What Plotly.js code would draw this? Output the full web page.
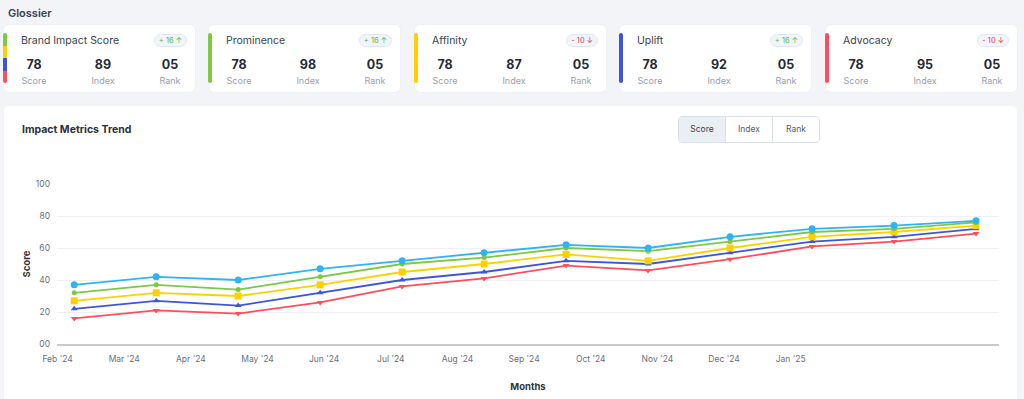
<!DOCTYPE html>
<html>
<head>
<meta charset="utf-8">
<script src="https://cdn.plot.ly/plotly-3.0.1.min.js"></script>
<style>
  html, body { margin: 0; padding: 0; }
  body { width: 1024px; height: 399px; overflow: hidden; background: #F2F4F7; font-family: Inter, "Noto Sans", sans-serif; position: relative; color: #2b2f3a; }
  .brand { position: absolute; left: 8px; top: 6px; font-size: 11px; font-weight: 600; color: #3a3f4b; }
  .card { position: absolute; top: 25px; height: 67px; width: 191px; background: #fff; border-radius: 5px; box-shadow: 0 0 2px rgba(0,0,0,0.06); }
  .bar { position: absolute; left: -1px; top: 8px; width: 4px; height: 50px; border-radius: 2px; overflow: hidden; }
  .bar div { height: 25%; }
  .ctitle { position: absolute; left: 17px; top: 9px; font-size: 10.5px; color: #3a3f4b; }
  .badge { position: absolute; right: 8px; top: 9px; height: 11px; line-height: 11px; padding: 0 4px; font-size: 7.5px; border-radius: 7px; background: #F1F5FB; border: 1px solid #E1E8F2; }
  .up { color: #5DBB3A; }
  .down { color: #E5414B; }
  .val { position: absolute; top: 32px; width: 50px; margin-left: -25px; text-align: center; font-size: 12.5px; font-weight: 700; color: #262a35; }
  .lab { position: absolute; top: 50px; width: 50px; margin-left: -25px; text-align: center; font-size: 9px; color: #9aa0ab; }
  .panel { position: absolute; left: 4px; top: 106px; width: 1013px; height: 300px; background: #fff; border-radius: 5px; }
  .ptitle { position: absolute; left: 18px; top: 17px; font-size: 10.5px; font-weight: 700; color: #2b2f3a; }
  .btns { position: absolute; left: 674px; top: 10px; height: 25px; display: flex; border: 1px solid #DCE1E8; border-radius: 4px; overflow: hidden; }
  .btns div { width: 46px; text-align: center; line-height: 25px; font-size: 8.5px; color: #555b66; border-left: 1px solid #DCE1E8; }
  .btns div:first-child { border-left: none; background: #EAEFF6; color: #3a3f4b; }
  #chart { position: absolute; left: 0; top: 0; width: 1013px; height: 293px; }
</style>
</head>
<body>
<div class="brand">Glossier</div>
<div id="cards"></div>
<div class="panel">
  <div id="chart"></div>
  <div class="ptitle">Impact Metrics Trend</div>
  <div class="btns"><div>Score</div><div>Index</div><div>Rank</div></div>
</div>
<script>
// ---- data ----
const months = ["Feb '24","Mar '24","Apr '24","May '24","Jun '24","Jul '24","Aug '24","Sep '24","Oct '24","Nov '24","Dec '24","Jan '25"];
const brandImpact = [37, 42, 40, 47, 52, 57, 62, 60, 67, 72, 74, 77];
const prominence  = [32, 37, 34, 42, 50, 54, 60, 58, 64, 70, 72, 76];
const affinity    = [27, 32, 30, 37, 45, 50, 56, 52, 60, 67, 70, 74];
const uplift      = [22, 27, 24, 32, 40, 45, 52, 50, 57, 64, 67, 72];
const advocacy    = [16, 21, 19, 26, 36, 41, 49, 46, 53, 61, 64, 69];
const yTickVals   = [0, 20, 40, 60, 80, 100];
const yTickText   = ["00", "20", "40", "60", "80", "100"];

const cardNames  = ["Brand Impact Score", "Prominence", "Affinity", "Uplift", "Advocacy"];
const cardScore  = ["78", "78", "78", "78", "78"];
const cardIndex  = ["89", "98", "87", "92", "95"];
const cardRank   = ["05", "05", "05", "05", "05"];
const cardDelta  = ["+ 16 \u2191", "+ 16 \u2191", "- 10 \u2193", "+ 16 \u2191", "- 10 \u2193"];

// ---- cards ----
const barColors = [["#7CC942","#FFD000","#3D55D9","#FF4D5A"],["#7CC942"],["#FFD000"],["#3D55D9"],["#FF4D5A"]];
const cardLeft = [4, 209, 415, 620, 826];
const cardsEl = document.getElementById('cards');
cardNames.forEach((n, i) => {
  const c = document.createElement('div');
  c.className = 'card';
  c.style.left = cardLeft[i] + 'px';
  const segs = barColors[i].map(col => `<div style="background:${col};height:${100/barColors[i].length}%"></div>`).join('');
  const up = cardDelta[i].trim().startsWith('+');
  c.innerHTML = `<div class="bar">${segs}</div>
    <div class="ctitle">${n}</div>
    <div class="badge ${up ? 'up' : 'down'}">${cardDelta[i]}</div>
    <div class="val" style="left:30px">${cardScore[i]}</div>
    <div class="val" style="left:99px">${cardIndex[i]}</div>
    <div class="val" style="left:166px">${cardRank[i]}</div>
    <div class="lab" style="left:30px">Score</div>
    <div class="lab" style="left:99px">Index</div>
    <div class="lab" style="left:166px">Rank</div>`;
  cardsEl.appendChild(c);
});

// ---- chart ----
const xs = months.map((_, i) => i);
function tr(name, y, color, symbol, size) {
  return { type: 'scatter', mode: 'lines+markers', name: name, x: xs, y: y,
    line: { color: color, width: 1.8 }, marker: { color: color, symbol: symbol, size: size } };
}
const traces = [
  tr('Advocacy', advocacy, '#FF4D5A', 'triangle-down', 6),
  tr('Uplift', uplift, '#3D55D9', 'triangle-up', 6),
  tr('Affinity', affinity, '#FFD000', 'square', 7),
  tr('Prominence', prominence, '#7CC942', 'circle', 5),
  tr('Brand Impact Score', brandImpact, '#2DB4F5', 'circle', 7)
];
const layout = {
  width: 1013, height: 293,
  margin: { l: 53, r: 18, t: 78, b: 55 },
  paper_bgcolor: 'rgba(0,0,0,0)', plot_bgcolor: 'rgba(0,0,0,0)',
  showlegend: false,
  font: { family: 'Inter, "Noto Sans", sans-serif', color: '#666' },
  xaxis: {
    range: [-0.21, 11.28],
    tickmode: 'array',
    tickvals: months.map((_, k) => -0.203 + 0.8129 * k),
    ticktext: months,
    showgrid: false, zeroline: false,
    showline: true, linecolor: '#C9C9C9', linewidth: 2,
    ticks: '', ticklabelstandoff: 6,
    tickfont: { size: 8.5, color: '#6b6f78' },
    title: { text: 'Months', font: { size: 9.5, color: '#333', weight: 700 }, standoff: 20 }
  },
  yaxis: {
    range: [0, 100],
    tickmode: 'array', tickvals: yTickVals, ticktext: yTickText,
    showgrid: true, gridcolor: '#F0F0F2', gridwidth: 1,
    zeroline: false, showline: false, ticks: '',
    ticklabelstandoff: 6,
    tickfont: { size: 8.5, color: '#6b6f78' },
    title: { text: 'Score', font: { size: 9.5, color: '#333', weight: 700 }, standoff: 3 }
  }
};
Plotly.newPlot('chart', traces, layout, { displayModeBar: false, staticPlot: true });
</script>
</body>
</html>
